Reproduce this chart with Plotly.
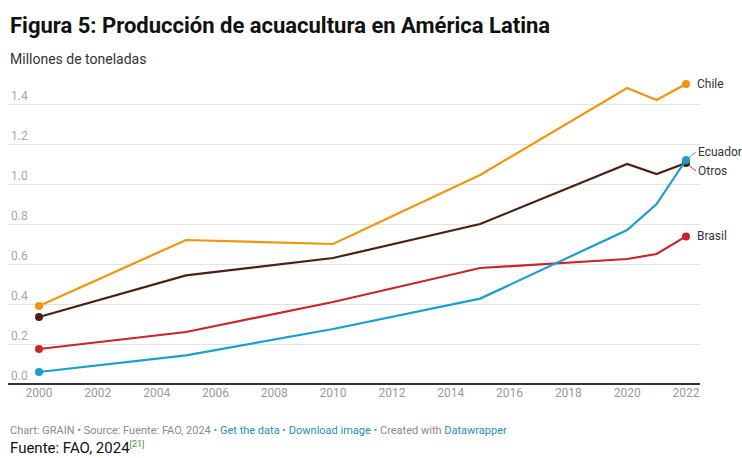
import plotly.graph_objects as go

years = [2000, 2005, 2010, 2015, 2020, 2021, 2022]
chile = [0.39, 0.72, 0.70, 1.045, 1.48, 1.42, 1.50]
otros = [0.335, 0.543, 0.63, 0.80, 1.10, 1.05, 1.105]
brasil = [0.175, 0.26, 0.41, 0.58, 0.625, 0.65, 0.738]
ecuador = [0.06, 0.143, 0.275, 0.427, 0.77, 0.90, 1.12]

series = [
    ("Chile", chile, "#f0950e"),
    ("Otros", otros, "#4b1f12"),
    ("Brasil", brasil, "#c8262c"),
    ("Ecuador", ecuador, "#1a9fcd"),
]

ytick_vals = [0.0, 0.2, 0.4, 0.6, 0.8, 1.0, 1.2, 1.4]
ytick_text = ["0.0", "0.2", "0.4", "0.6", "0.8", "1.0", "1.2", "1.4"]
xtick_vals = list(range(2000, 2023, 2))

fig = go.Figure()
for name, vals, color in series:
    fig.add_trace(go.Scatter(
        x=years, y=vals, mode="lines", name=name,
        line=dict(color=color, width=2.2), hoverinfo="skip"))
    fig.add_trace(go.Scatter(
        x=[years[0], years[-1]], y=[vals[0], vals[-1]], mode="markers",
        marker=dict(color=color, size=8), hoverinfo="skip", showlegend=False))

label_font = dict(family="Roboto", size=12, color="#333333")
for name, vals, color in series:
    if name in ("Chile", "Brasil"):
        fig.add_annotation(x=years[-1], y=vals[-1], text=name, showarrow=False,
                           xanchor="left", yanchor="middle", xshift=9,
                           font=label_font)
    else:
        ay = -8 if name == "Ecuador" else 8
        fig.add_annotation(x=years[-1], y=vals[-1], text=name, showarrow=True,
                           arrowhead=0, arrowwidth=0.8, arrowcolor=color,
                           standoff=3, ax=10, ay=ay,
                           xanchor="left", yanchor="middle",
                           font=label_font)

fig.update_layout(
    width=742, height=458,
    margin=dict(l=8, r=42, t=80, b=74),
    paper_bgcolor="white", plot_bgcolor="white",
    showlegend=False,
    font=dict(family="Roboto", color="#333333"),
    xaxis=dict(range=[1998.946, 2022.476], tickvals=xtick_vals,
               ticktext=[str(v) for v in xtick_vals],
               showgrid=False, zeroline=False, showline=False,
               ticks="", tickfont=dict(size=12, color="#9a9a9a")),
    yaxis=dict(range=[0, 1.52], tickvals=ytick_vals, ticktext=ytick_text,
               ticklabelposition="inside top",
               showgrid=True, gridcolor="#e3e3e3", gridwidth=1,
               zeroline=True, zerolinecolor="#333333", zerolinewidth=1.5,
               showline=False, ticks="",
               tickfont=dict(size=12, color="#a6a6a6")),
)

fig.add_annotation(xref="paper", yref="paper", x=0, y=1, yshift=55,
                   xanchor="left", yanchor="middle", showarrow=False,
                   text="<b>Figura 5: Producción de acuacultura en América Latina</b>",
                   font=dict(family="Roboto", size=22, color="#111111"))
fig.add_annotation(xref="paper", yref="paper", x=0, y=1, yshift=21,
                   xanchor="left", yanchor="middle", showarrow=False,
                   text="Millones de toneladas",
                   font=dict(family="Roboto", size=14, color="#333333"))
footer = ("Chart: GRAIN • Source: Fuente: FAO, 2024 • "
          "<span style='color:#1d8fc0'>Get the data</span> • "
          "<span style='color:#1d8fc0'>Download image</span> • Created with "
          "<span style='color:#1d8fc0'>Datawrapper</span>")
fig.add_annotation(xref="paper", yref="paper", x=0, y=0, yshift=-46,
                   xanchor="left", yanchor="middle", showarrow=False,
                   text=footer,
                   font=dict(family="Roboto", size=11, color="#8a8a8a"))
fig.add_annotation(xref="paper", yref="paper", x=0, y=0, yshift=-64,
                   xanchor="left", yanchor="middle", showarrow=False,
                   text="Fuente: FAO, 2024<sup><span style='color:#3a9a3a;font-size:9px'>[21]</span></sup>",
                   font=dict(family="Roboto", size=15, color="#111111"))

fig.write_html("out.html", config={"displayModeBar": False})
